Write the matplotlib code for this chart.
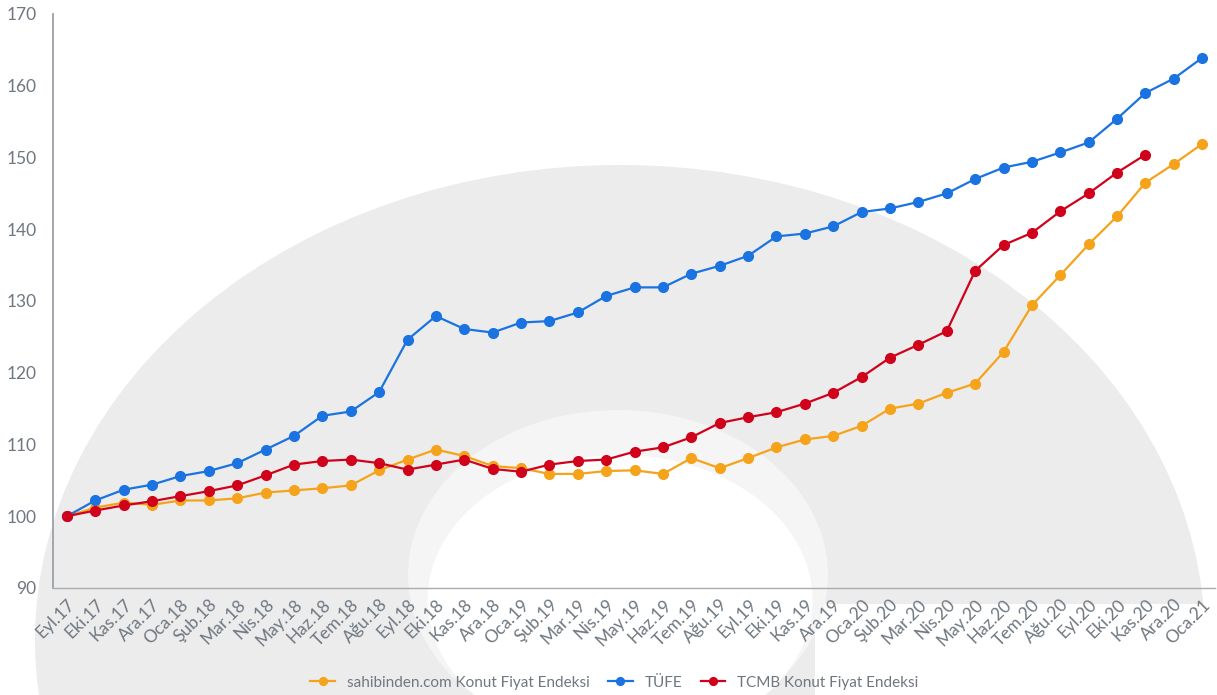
import matplotlib.pyplot as plt
from matplotlib.patches import Ellipse, Rectangle
import numpy as np

plt.rcParams['font.family'] = ['Lato', 'DejaVu Sans']

months = ["Eyl.17", "Eki.17", "Kas.17", "Ara.17", "Oca.18", "Şub.18", "Mar.18", "Nis.18",
          "May.18", "Haz.18", "Tem.18", "Ağu.18", "Eyl.18", "Eki.18", "Kas.18", "Ara.18",
          "Oca.19", "Şub.19", "Mar.19", "Nis.19", "May.19", "Haz.19", "Tem.19", "Ağu.19",
          "Eyl.19", "Eki.19", "Kas.19", "Ara.19", "Oca.20", "Şub.20", "Mar.20", "Nis.20",
          "May.20", "Haz.20", "Tem.20", "Ağu.20", "Eyl.20", "Eki.20", "Kas.20", "Ara.20",
          "Oca.21"]

sahibinden = [100.0, 101.2, 101.9, 101.6, 102.2, 102.2, 102.5, 103.3, 103.6, 103.9,
              104.3, 106.4, 107.9, 109.3, 108.4, 107.0, 106.7, 105.9, 105.9, 106.3,
              106.4, 105.9, 108.1, 106.7, 108.1, 109.6, 110.7, 111.2, 112.6, 115.0,
              115.7, 117.2, 118.5, 122.9, 129.4, 133.6, 137.9, 141.8, 146.5, 149.1,
              151.9]

tufe = [100.0, 102.2, 103.7, 104.4, 105.6, 106.3, 107.4, 109.3, 111.2, 114.0,
        114.6, 117.3, 124.6, 127.9, 126.1, 125.6, 127.0, 127.2, 128.4, 130.7,
        131.9, 131.9, 133.8, 134.9, 136.3, 139.0, 139.4, 140.4, 142.4, 142.9,
        143.8, 145.0, 147.0, 148.6, 149.4, 150.7, 152.1, 155.4, 159.0, 161.0,
        163.9]

tcmb = [100.0, 100.8, 101.5, 102.1, 102.8, 103.5, 104.3, 105.7, 107.2, 107.7,
        107.9, 107.4, 106.5, 107.2, 107.9, 106.6, 106.2, 107.2, 107.7, 107.9,
        109.0, 109.6, 111.0, 113.0, 113.8, 114.5, 115.7, 117.2, 119.4, 122.1,
        123.9, 125.8, 134.2, 137.8, 139.5, 142.5, 145.0, 147.9, 150.4]

yticks = [90, 100, 110, 120, 130, 140, 150, 160, 170]

fig = plt.figure(figsize=(12.17, 6.95), dpi=100)

# faint watermark in the background
bg = fig.add_axes([0, 0, 1, 1], zorder=0)
bg.set_xlim(0, 1217)
bg.set_ylim(695, 0)
bg.axis('off')
bg.add_patch(Ellipse((620, 640), 1170, 950, color='#ececec', lw=0))
bg.add_patch(Rectangle((815, 604), 420, 100, color='white', lw=0))
bg.add_patch(Ellipse((618, 575), 420, 330, color='#f5f5f5', lw=0))
bg.add_patch(Ellipse((620, 600), 385, 290, color='white', lw=0))

ax = fig.add_axes([53 / 1217, 1 - 588 / 695, 1162 / 1217, 574 / 695], zorder=1)
ax.patch.set_alpha(0)

x = np.arange(len(months))
ax.plot(x, sahibinden, color='#f5a31b', lw=1.6, marker='o', ms=7,
        label='sahibinden.com Konut Fiyat Endeksi')
ax.plot(x, tufe, color='#1a73e0', lw=1.6, marker='o', ms=7, label='TÜFE')
ax.plot(x[:len(tcmb)], tcmb, color='#d0021b', lw=1.6, marker='o', ms=7,
        label='TCMB Konut Fiyat Endeksi')

ax.set_xlim(-0.49, 40.45)
ax.set_ylim(90, 170)
ax.set_yticks(yticks)
ax.set_xticks(x)
ax.set_xticklabels(months, rotation=45, ha='right', rotation_mode='anchor')
ax.tick_params(axis='both', length=0, labelsize=12.5, colors='#6f7780')
ax.tick_params(axis='y', pad=12)
ax.tick_params(axis='x', pad=6)

for s in ['top', 'right']:
    ax.spines[s].set_visible(False)
ax.spines['left'].set_color('#9aa0a6')
ax.spines['left'].set_linewidth(1.3)
ax.spines['bottom'].set_color('#a9adb1')
ax.spines['bottom'].set_linewidth(1.0)

leg = fig.legend(loc='lower center', bbox_to_anchor=(0.505, -0.012), ncol=3, frameon=False,
                 fontsize=11, handlelength=1.6, columnspacing=1.2, markerscale=0.8)
for t in leg.get_texts():
    t.set_color('#6f7780')

fig.savefig('out.png', dpi=100)
